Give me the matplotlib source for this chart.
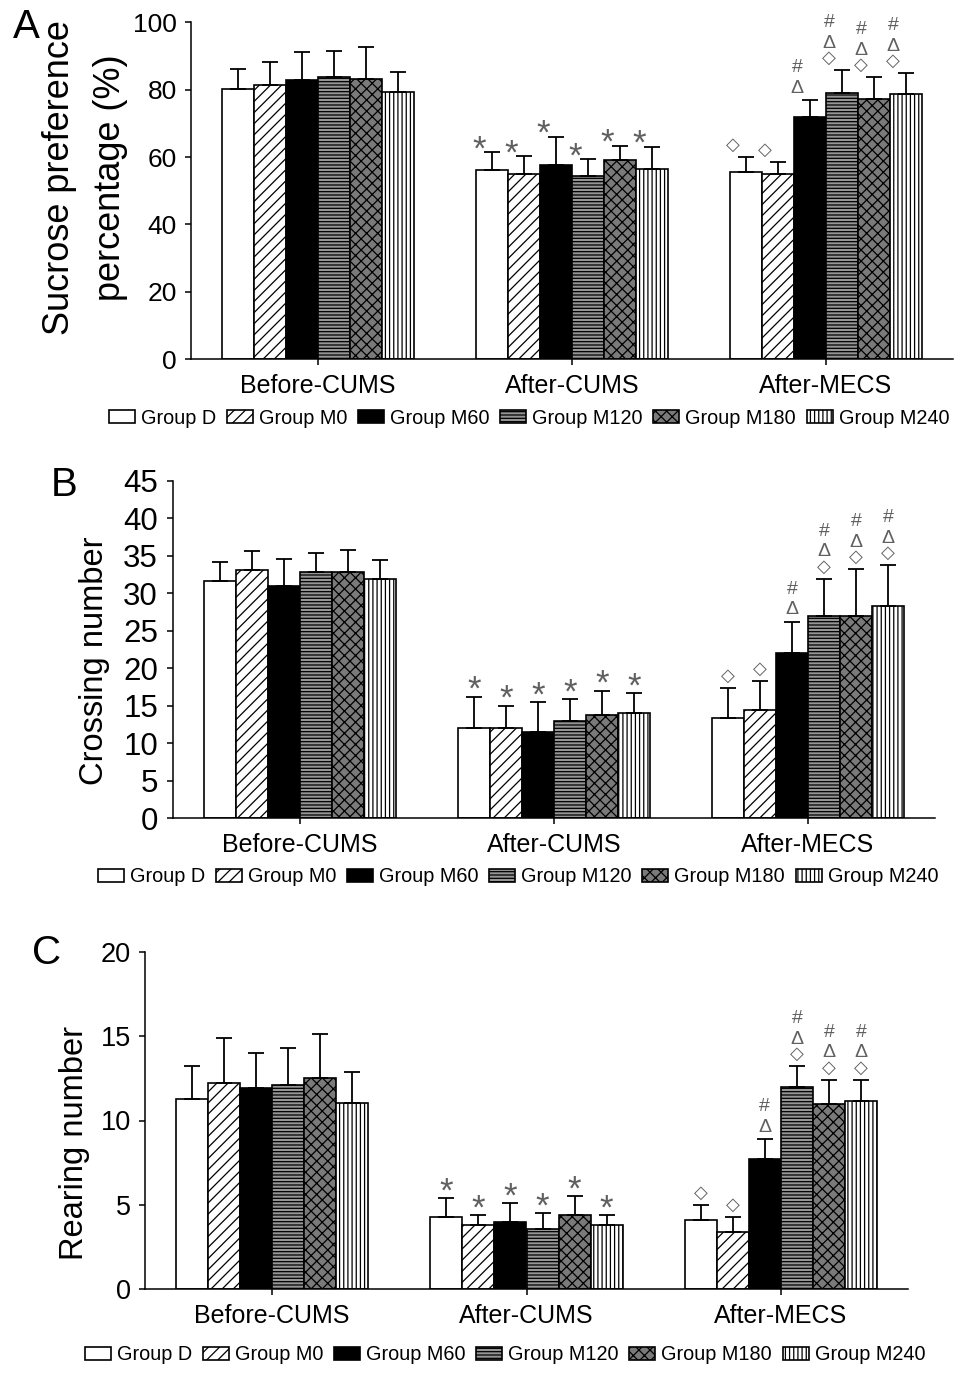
import matplotlib
matplotlib.use('Agg')
import matplotlib.pyplot as plt
from matplotlib.patches import Patch
import numpy as np

plt.rcParams['font.family'] = ['Liberation Sans', 'DejaVu Sans']
plt.rcParams['hatch.linewidth'] = 0.9

# ---------------- data ----------------
categories = ['Before-CUMS', 'After-CUMS', 'After-MECS']
groups = ['Group D', 'Group M0', 'Group M60', 'Group M120', 'Group M180', 'Group M240']

A_before = [80.1, 81.5, 82.9, 83.9, 83.2, 79.3]
A_cums = [56.2, 55.1, 57.6, 54.5, 59.2, 56.6]
A_mecs = [55.5, 54.9, 71.8, 79.0, 77.2, 78.8]
A_before_sd = [5.9, 6.6, 8.3, 7.5, 9.5, 5.9]
A_cums_sd = [5.2, 5.3, 8.5, 4.8, 4.2, 6.5]
A_mecs_sd = [4.4, 3.5, 5.2, 6.7, 6.5, 6.1]

B_before = [31.6, 33.1, 31.0, 32.8, 32.8, 31.9]
B_cums = [12.0, 12.0, 11.5, 13.0, 13.8, 14.0]
B_mecs = [13.4, 14.5, 22.0, 27.0, 27.0, 28.3]
B_before_sd = [2.6, 2.5, 3.5, 2.5, 3.0, 2.5]
B_cums_sd = [4.2, 3.0, 4.0, 2.9, 3.2, 2.7]
B_mecs_sd = [4.0, 3.8, 4.2, 4.9, 6.2, 5.4]

C_before = [11.3, 12.2, 11.9, 12.1, 12.5, 11.05]
C_cums = [4.3, 3.8, 4.0, 3.6, 4.4, 3.8]
C_mecs = [4.1, 3.4, 7.7, 12.0, 11.0, 11.15]
C_before_sd = [1.9, 2.7, 2.1, 2.2, 2.6, 1.85]
C_cums_sd = [1.1, 0.6, 1.1, 0.9, 1.1, 0.6]
C_mecs_sd = [0.9, 0.9, 1.2, 1.2, 1.4, 1.25]

# significance marks (stacked bottom -> top)
cums_marks = [['*'], ['*'], ['*'], ['*'], ['*'], ['*']]
mecs_marks = [['◇'], ['◇'], ['Δ', '#'], ['◇', 'Δ', '#'], ['◇', 'Δ', '#'], ['◇', 'Δ', '#']]

# ---------------- styles ----------------
facecolors = ['white', 'white', 'black', '#959595', '#7a7a7a', 'white']
hatches = [None, '///', None, '-----', 'xxx', '||||']

W, H = 969, 1377
fig = plt.figure(figsize=(W / 100, H / 100), dpi=100)


def axrect(l, r, t, b):
    return [l / W, 1 - b / H, (r - l) / W, (b - t) / H]


panels = [
    dict(rect=axrect(190.7, 953, 22.3, 359.3), ymax=100, yticks=[0, 20, 40, 60, 80, 100],
         means=[A_before, A_cums, A_mecs], sds=[A_before_sd, A_cums_sd, A_mecs_sd],
         tick_fs=19, tick_pad=6, letter='A', letter_xy=(26, 27),
         ylabels=[('Sucrose preference', 60), ('percentage (%)', 111)], ylabel_y=178, ylabel_fs=26,
         leg_xy=(529, 418), markfrac=0.1, star_off=7),
    dict(rect=axrect(173.3, 935, 480.7, 818.3), ymax=45, yticks=list(range(0, 46, 5)),
         means=[B_before, B_cums, B_mecs], sds=[B_before_sd, B_cums_sd, B_mecs_sd],
         tick_fs=22.5, tick_pad=7, letter='B', letter_xy=(64, 485),
         ylabels=[('Crossing number', 94)], ylabel_y=661, ylabel_fs=23.5,
         leg_xy=(518, 877), markfrac=0.5, star_off=10),
    dict(rect=axrect(145, 908, 951.7, 1289.3), ymax=20, yticks=[0, 5, 10, 15, 20],
         means=[C_before, C_cums, C_mecs], sds=[C_before_sd, C_cums_sd, C_mecs_sd],
         tick_fs=19.5, tick_pad=6, letter='C', letter_xy=(47, 953),
         ylabels=[('Rearing number', 74)], ylabel_y=1143, ylabel_fs=23.5,
         leg_xy=(505, 1355), markfrac=0.5, star_off=10),
]

w = 0.126
xc = np.arange(len(categories))
markcolor = '#606060'

for p in panels:
    ax = fig.add_axes(p['rect'])
    means = np.array(p['means'])
    sds = np.array(p['sds'])
    for i in range(len(groups)):
        x = xc + (i - 2.5) * w
        ax.bar(x, means[:, i], width=w, color=facecolors[i], hatch=hatches[i],
               edgecolor='black', linewidth=1.2,
               yerr=[np.zeros(len(categories)), sds[:, i]],
               error_kw=dict(ecolor='black', elinewidth=1.3, capsize=5.5, capthick=1.3),
               zorder=2)
    # annotations
    for ci, marks in ((1, cums_marks), (2, mecs_marks)):
        for i in range(len(groups)):
            x = xc[ci] + (i - 3) * w + p['markfrac'] * w
            top = means[ci, i] + sds[ci, i]
            stack = marks[i]
            if stack == ['*']:
                ax.annotate('*', xy=(x, top), xytext=(0, p['star_off'] - 5.5),
                            textcoords='offset points', ha='center', va='center',
                            fontsize=25, color=markcolor)
                continue
            off = 8.5
            for k, s in enumerate(stack):
                if k > 0:
                    off += 15.0 if s == '#' else 11.0
                fs = 13 if s == '◇' else 14
                ax.annotate(s, xy=(x, top), xytext=(0, off), textcoords='offset points',
                            ha='center', va='center', fontsize=fs, color=markcolor)
    ax.set_xlim(-0.5, 2.5)
    ax.set_ylim(0, p['ymax'])
    ax.set_yticks(p['yticks'])
    ax.set_xticks(xc)
    ax.set_xticklabels(categories)
    for s in ('top', 'right'):
        ax.spines[s].set_visible(False)
    for s in ('left', 'bottom'):
        ax.spines[s].set_linewidth(1.1)
    ax.tick_params(axis='y', direction='out', length=4, width=1.1,
                   labelsize=p['tick_fs'], pad=p['tick_pad'])
    ax.tick_params(axis='x', direction='out', length=4.5, width=1.1,
                   labelsize=18, pad=6)
    # panel letter
    lx, ly = p['letter_xy']
    fig.text(lx / W, 1 - ly / H, p['letter'], fontsize=29, ha='center', va='center')
    for txt, x in p['ylabels']:
        fig.text(x / W, 1 - p['ylabel_y'] / H, txt, rotation=90, fontsize=p['ylabel_fs'],
                 ha='center', va='center')
    handles = [Patch(facecolor=facecolors[i], edgecolor='black', hatch=hatches[i], linewidth=1.2)
               for i in range(len(groups))]
    gx, gy = p['leg_xy']
    fig.legend(handles, groups, loc='center', bbox_to_anchor=(gx / W, 1 - gy / H), ncol=6,
               frameon=False, fontsize=14.3, handlelength=1.3, handleheight=0.6,
               handletextpad=0.3, columnspacing=0.55, borderaxespad=0, borderpad=0)

fig.savefig('out.png', dpi=100)
